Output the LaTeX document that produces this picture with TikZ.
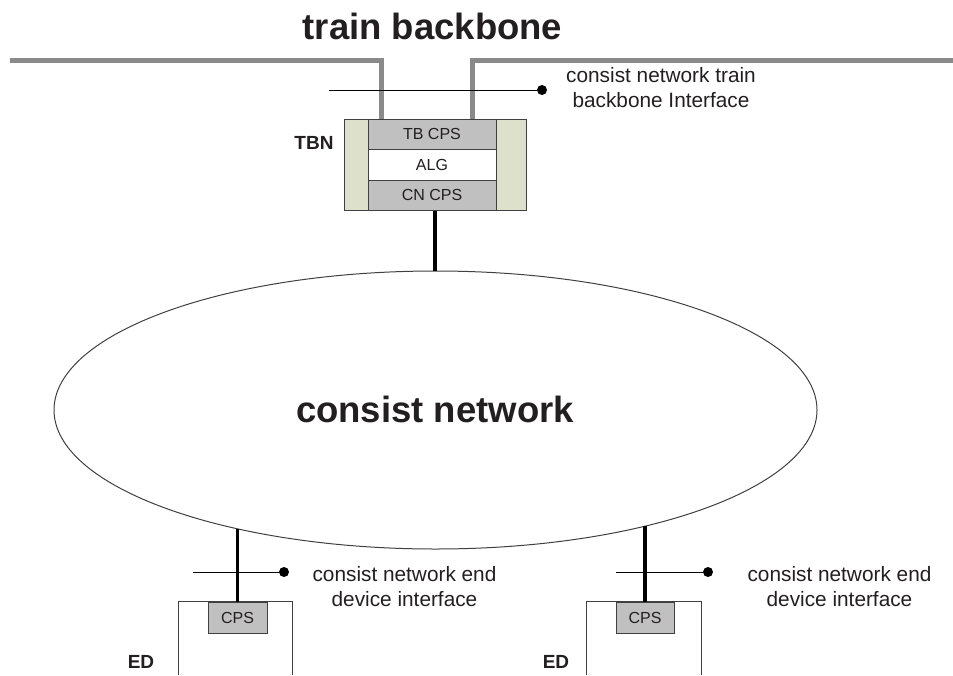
\documentclass[tikz,border=0pt]{standalone}
\usepackage{fontspec}
\setmainfont{Liberation Sans}
\usetikzlibrary{shapes.geometric,calc}

\definecolor{txt}{HTML}{231F20}
\definecolor{edge}{HTML}{404040}
\definecolor{bbgray}{HTML}{8A8A8A}
\definecolor{cpsgray}{HTML}{C0C0C0}
\definecolor{nodegreen}{HTML}{DDE1CB}

\tikzset{
  title/.style={font=\fontsize{36.5}{40}\selectfont\bfseries, text=txt, inner sep=0pt},
  tag/.style={font=\fontsize{19}{22}\selectfont\bfseries, text=txt, inner sep=0pt},
  note/.style={font=\fontsize{20.8}{25}\selectfont, text=txt, align=center, inner sep=0pt},
  layer/.style={draw=edge, line width=1pt, fill=cpsgray, inner sep=0pt,
    font=\fontsize{16}{18}\selectfont, text=txt},
  housing/.style={draw=edge, line width=1pt, fill=nodegreen, inner sep=0pt},
  dot/.style={circle, fill=black, inner sep=0pt, minimum size=10pt},
  backbone/.style={draw=bbgray, line width=5pt},
  link/.style={draw=black, line width=3.2pt},
  iface/.style={draw=black, line width=1pt},
}

\begin{document}
\begin{tikzpicture}[x=1pt, y=-1pt]
\useasboundingbox (0,0) rectangle (953,675);

% title
\node[title, anchor=base] (tbtitle) at (432.5,39) {train backbone};

% train backbone node with its three layers
\node[housing, minimum width=182pt, minimum height=91pt] (tbn) at (435,164.5) {};
\node[layer, minimum width=128pt, minimum height=30pt] (tbcps) at (432,134) {TB CPS};
\node[layer, fill=white, minimum width=128pt, minimum height=31pt] (alg) at (432,164.5) {ALG};
\node[layer, minimum width=128pt, minimum height=30pt] (cncps) at (432,195) {CN CPS};
\node[tag, anchor=base] (tbnlabel) at (314,149) {TBN};

% backbone lines entering the node
\coordinate (bbL) at (10,60);
\coordinate (bbR) at (953,60);
\coordinate (tapL) at ($(tbcps.north west)+(14,0)$);
\coordinate (tapR) at ($(tbcps.north east)+(-24,0)$);
\draw[backbone, line join=miter] (bbL) -- (bbL -| tapL) -- ([yshift=-0.5pt]tapL);
\draw[backbone, line join=miter] ([yshift=-0.5pt]tapR) -- (tapR |- bbR) -- (bbR);

% backbone interface marker (text anchored on its last line)
\coordinate (bbifree) at (329,90);
\node[dot] (bbidot) at (542,90) {};
\draw[iface] (bbifree) -- (bbidot);
\node[note, anchor=base] (bbitext) at (661,107.5) {consist network train\\backbone Interface};

% consist network
\node[ellipse, draw=edge, line width=1pt, minimum width=763pt, minimum height=278pt,
      inner sep=0pt] (cn) at (435.5,410) {};
\node[title, anchor=base] (cntitle) at (435,422) {consist network};
\draw[link] (tbn.south) -- (tbn.south |- cn.north);

% end devices (open at the bottom)
\node[minimum width=113pt, minimum height=73pt, inner sep=0pt] (ed1) at (235.5,638.5) {};
\node[minimum width=114pt, minimum height=73pt, inner sep=0pt] (ed2) at (644,638.5) {};
\draw[draw=edge, line width=1pt] (ed1.south west) -- (ed1.north west) -- (ed1.north east) -- (ed1.south east);
\draw[draw=edge, line width=1pt] (ed2.south west) -- (ed2.north west) -- (ed2.north east) -- (ed2.south east);
\node[layer, minimum width=59pt, minimum height=31pt] (cps1) at (237.5,617.5) {CPS};
\node[layer, minimum width=58pt, minimum height=31pt] (cps2) at (645,617.5) {CPS};
\node[tag, anchor=base] (ed1label) at (141,668) {ED};
\node[tag, anchor=base] (ed2label) at (556,668) {ED};

% links from the end devices to the consist network
\draw[link] (cps1.north) -- (cps1.north |- cn.211);
\draw[link] (cps2.north) -- (cps2.north |- cn.-29.1);

% end device interface markers
\coordinate (ed1free) at (193,572);
\node[dot] (ed1dot) at (284,572) {};
\draw[iface] (ed1free) -- (ed1dot);
\node[note, anchor=base] (ed1text) at (404.5,606.5) {consist network end\\device interface};

\coordinate (ed2free) at (616,572);
\node[dot] (ed2dot) at (708,572) {};
\draw[iface] (ed2free) -- (ed2dot);
\node[note, anchor=base] (ed2text) at (839.5,606.5) {consist network end\\device interface};
\end{tikzpicture}
\end{document}
